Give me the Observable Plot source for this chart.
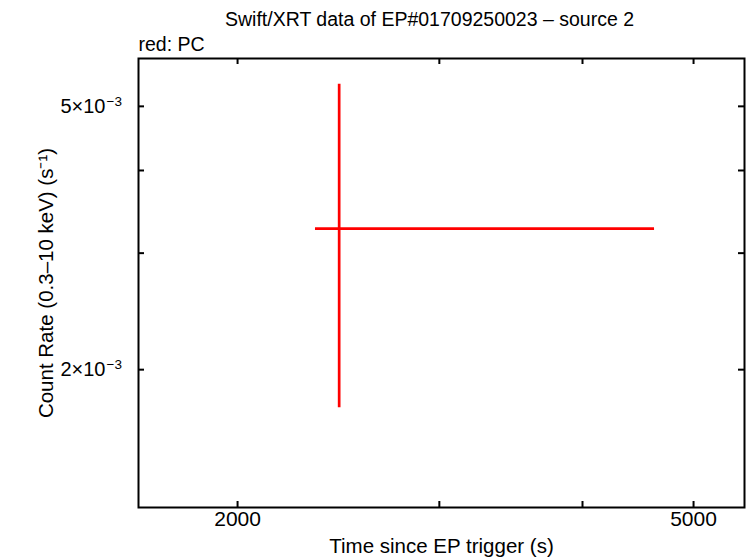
<!DOCTYPE html>
<html>
<head>
<meta charset="utf-8">
<script src="https://cdn.jsdelivr.net/npm/d3@7"></script>
<script src="https://cdn.jsdelivr.net/npm/@observablehq/plot@0.6"></script>
<style>
  html, body { margin: 0; padding: 0; background: #fff; }
  #chart svg { display: block; }
</style>
</head>
<body>
<div id="chart"></div>
<script>
// Data (one PC-mode bin)
const time = [2453];
const timeLo = [2339];
const timeHi = [4623];
const rate = [0.003268];
const rateLo = [0.001752];
const rateHi = [0.005398];

// Axes
const xDomain = [1639, 5539];
const yDomain = [0.001238, 0.005906];
const xTicks = [2000, 3000, 4000, 5000];
const xTickLabels = [2000, 5000];
const yTicks = [0.002, 0.003, 0.004, 0.005];
const yTickLabels = [0.002, 0.005];
const yTickBase = ["2×10", "5×10"];
const yTickExp = ["−3", "−3"];

const titleText = "Swift/XRT data of EP#01709250023 – source 2";
const subText = "red: PC";
const xLabel = "Time since EP trigger (s)";
const yLabel = "Count Rate (0.3–10 keV) (s⁻¹)";

const W = 746, H = 558;
const mTop = 58, mRight = 2, mBottom = 51, mLeft = 138;
const plotH = H - mTop - mBottom;
const plotW = W - mLeft - mRight;
const tickLen = 6;
const font = "'Liberation Sans', Arial, Helvetica, sans-serif";

const rows = time.map((t, i) => ({t, lo: timeLo[i], hi: timeHi[i], r: rate[i], rlo: rateLo[i], rhi: rateHi[i]}));

const chart = Plot.plot({
  width: W,
  height: H,
  marginTop: mTop,
  marginRight: mRight,
  marginBottom: mBottom,
  marginLeft: mLeft,
  style: {fontFamily: font, fontSize: "19px", color: "#000", background: "#fff"},
  x: {type: "log", domain: xDomain},
  y: {type: "log", domain: yDomain, axis: null},
  marks: [
    // inward ticks: bottom, top, left, right
    Plot.ruleX(xTicks, {x: d => d, insetTop: plotH - tickLen, stroke: "#000", strokeWidth: 2}),
    Plot.ruleX(xTicks, {x: d => d, insetBottom: plotH - tickLen, stroke: "#000", strokeWidth: 2}),
    Plot.ruleY(yTicks, {y: d => d, insetRight: plotW - tickLen, stroke: "#000", strokeWidth: 2}),
    Plot.ruleY(yTicks, {y: d => d, insetLeft: plotW - tickLen, stroke: "#000", strokeWidth: 2}),
    Plot.axisX({ticks: xTickLabels, tickSize: 0, tickPadding: 4, tickFormat: d => String(d), label: null, fontSize: 21}),
    // y tick labels: mantissa and raised exponent
    Plot.text(yTickLabels, {y: d => d, text: (d, i) => yTickBase[i], frameAnchor: "left", textAnchor: "end", dx: -33, fontSize: 20}),
    Plot.text(yTickLabels, {y: d => d, text: (d, i) => yTickExp[i], frameAnchor: "left", textAnchor: "start", dx: -32, dy: -5, fontSize: 13.5}),
    // error bars
    Plot.ruleY(rows, {y: "r", x1: "lo", x2: "hi", stroke: "#ff0000", strokeWidth: 2.7}),
    Plot.ruleX(rows, {x: "t", y1: "rlo", y2: "rhi", stroke: "#ff0000", strokeWidth: 2.7}),
    Plot.frame({stroke: "#000", strokeWidth: 2}),
    // texts
    Plot.text([titleText], {text: d => d, frameAnchor: "top", dy: -46, dx: -12, fontSize: 19.5}),
    Plot.text([subText], {text: d => d, frameAnchor: "top-left", textAnchor: "start", dy: -21, fontSize: 19.5}),
    Plot.text([xLabel], {text: d => d, frameAnchor: "bottom", dy: 45, fontSize: 20.5}),
    Plot.text([yLabel], {text: d => d, frameAnchor: "left", textAnchor: "middle", dx: -92, rotate: -90, fontSize: 20.5})
  ]
});
document.getElementById("chart").appendChild(chart);
</script>
</body>
</html>
